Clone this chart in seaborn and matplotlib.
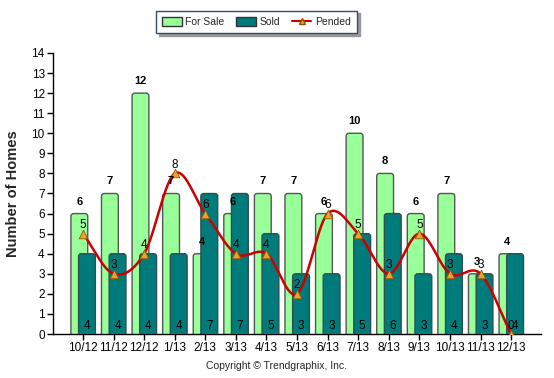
import numpy as np
import pandas as pd
import matplotlib
matplotlib.use("Agg")
import matplotlib.pyplot as plt
from matplotlib.patches import FancyBboxPatch, Rectangle, Patch
from matplotlib.lines import Line2D
import seaborn as sns

# data
months = ["10/12", "11/12", "12/12", "1/13", "2/13", "3/13", "4/13", "5/13",
          "6/13", "7/13", "8/13", "9/13", "10/13", "11/13", "12/13"]
for_sale = [6, 7, 12, 7, 4, 6, 7, 7, 6, 10, 8, 6, 7, 3, 4]
sold = [4, 4, 4, 4, 7, 7, 5, 3, 3, 5, 6, 3, 4, 3, 4]
pended = [5, 3, 4, 8, 6, 4, 4, 2, 6, 5, 3, 5, 3, 3, 0]

SALE_COL = "#99ff99"
SOLD_COL = "#007b7b"
LINE_COL = "#cc0000"
MARK_COL = "#f0a030"


def catmull_rom(xs, ys, n=20):
    # smooth curve through the points (drawing only)
    xs = np.asarray(xs, float); ys = np.asarray(ys, float)
    px = np.concatenate([[2 * xs[0] - xs[1]], xs, [2 * xs[-1] - xs[-2]]])
    py = np.concatenate([[2 * ys[0] - ys[1]], ys, [2 * ys[-1] - ys[-2]]])
    ox, oy = [], []
    t = np.linspace(0, 1, n, endpoint=False)
    for i in range(1, len(px) - 2):
        for arr, out in ((px, ox), (py, oy)):
            p0, p1, p2, p3 = arr[i - 1], arr[i], arr[i + 1], arr[i + 2]
            out.extend(0.5 * ((2 * p1) + (-p0 + p2) * t
                              + (2 * p0 - 5 * p1 + 4 * p2 - p3) * t ** 2
                              + (-p0 + 3 * p1 - 3 * p2 + p3) * t ** 3))
    ox.append(xs[-1]); oy.append(ys[-1])
    return np.array(ox), np.array(oy)


sns.set_style("white")
plt.rcParams["font.family"] = ["Liberation Sans", "DejaVu Sans"]

fig = plt.figure(figsize=(5.54, 3.78), dpi=100)
ax = fig.add_axes([0.0957, 0.1164, 0.881, 0.7434])

df = pd.DataFrame({"Month": months, "ForSale": for_sale, "Sold": sold, "Pended": pended})

# For Sale bars, shifted left
sns.barplot(data=df, x="Month", y="ForSale", color=SALE_COL, width=0.55,
            edgecolor="#555555", linewidth=1.0, saturation=1, ax=ax)
n_sale = len(ax.patches)
for p in ax.patches:
    p.set_x(p.get_x() - 0.12)
# Sold bars, shifted right
sns.barplot(data=df, x="Month", y="Sold", color=SOLD_COL, width=0.55,
            edgecolor="#2f4f4f", linewidth=1.0, saturation=1, ax=ax)
for p in ax.patches[n_sale:]:
    p.set_x(p.get_x() + 0.13)

# round the top corners of bars
rects = [p for p in ax.patches if isinstance(p, Rectangle)]
for i, p in enumerate(rects):
    x0, w, h = p.get_x(), p.get_width(), p.get_height()
    fc, ec, lw = p.get_facecolor(), p.get_edgecolor(), p.get_linewidth()
    p.remove()
    fb = FancyBboxPatch((x0, -0.4), w, h + 0.4,
                        boxstyle="round,pad=0,rounding_size=0.09",
                        mutation_aspect=1.5, facecolor=fc, edgecolor=ec,
                        linewidth=lw, zorder=2 + (i >= n_sale))
    ax.add_patch(fb)

# Pended smooth line with triangle markers
xs = np.arange(len(months))
cx, cy = catmull_rom(xs, pended)
ax.plot(cx, cy, color=LINE_COL, lw=1.8, zorder=4)
sns.scatterplot(x=xs, y=pended, marker="^", s=38, color=MARK_COL,
                edgecolor="#8a5a00", linewidth=0.6, zorder=5, ax=ax, legend=False)

# value labels
for i in range(len(months)):
    ax.text(i - 0.12, for_sale[i] + 0.35, str(for_sale[i]), ha="center", va="bottom",
            fontsize=8, fontweight="bold", color="black", zorder=6)
    ax.text(i + 0.13, 0.1, str(sold[i]), ha="center", va="bottom",
            fontsize=8.5, color="black", zorder=6)
    ax.text(i, pended[i] + 0.12, str(pended[i]), ha="center", va="bottom",
            fontsize=8.5, color="black", zorder=6)

ax.set_xlim(-0.98, 14.98)
ax.set_ylim(0, 14)
ax.set_yticks(range(0, 15))
ax.set_xlabel("")
ax.set_ylabel("Number of Homes", fontsize=10.5, fontweight="bold", labelpad=8)
ax.tick_params(axis="both", labelsize=8.5, length=4, width=1, direction="out",
               colors="black", pad=2)
ax.tick_params(axis="both", left=True, bottom=True)
for s in ["top", "right"]:
    ax.spines[s].set_visible(False)
for s in ["left", "bottom"]:
    ax.spines[s].set_color("black")
    ax.spines[s].set_linewidth(1)

handles = [Patch(facecolor=SALE_COL, edgecolor="#333333", label="For Sale"),
           Patch(facecolor=SOLD_COL, edgecolor="#333333", label="Sold"),
           Line2D([0], [0], color=LINE_COL, lw=1.5, marker="^", markersize=4,
                  markerfacecolor=MARK_COL, markeredgecolor="#8a5a00", label="Pended")]
leg = fig.legend(handles=handles, loc="center", bbox_to_anchor=(0.463, 0.942), ncol=3,
                 fontsize=7.5, frameon=True, fancybox=False,
                 shadow={"color": "#999999", "alpha": 1},
                 handlelength=1.9, handleheight=0.9, columnspacing=1.1,
                 handletextpad=0.35, borderpad=0.6)
leg.get_frame().set_edgecolor("#2f4f6f")
leg.get_frame().set_linewidth(1)

fig.text(0.5, 0.032, "Copyright \u00a9 Trendgraphix, Inc.", ha="center", va="center",
         fontsize=7.5)

fig.savefig("out.png", dpi=100, facecolor="white")
